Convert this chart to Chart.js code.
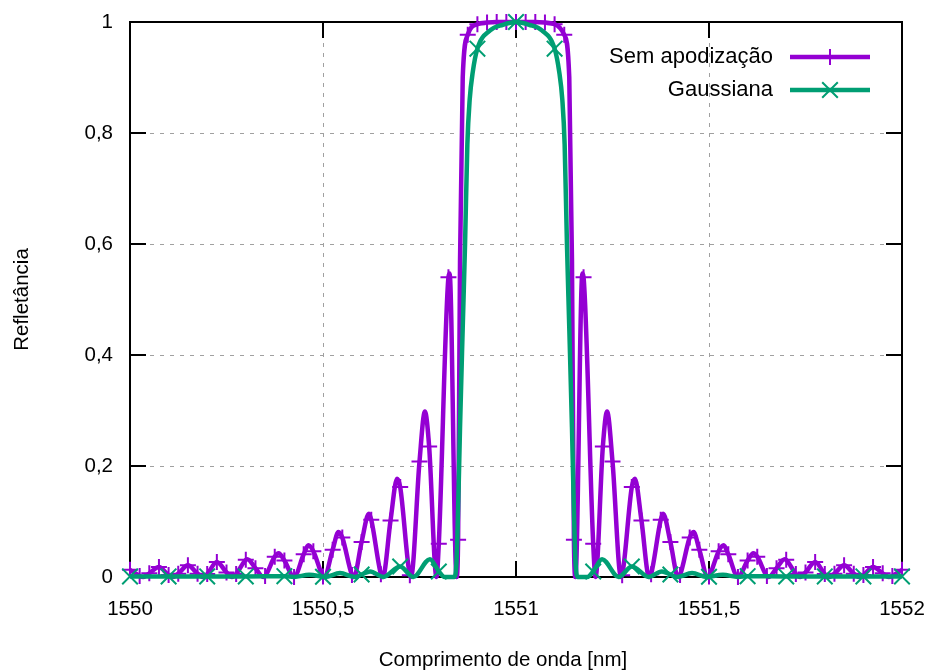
<!DOCTYPE html>
<html><head><meta charset="utf-8">
<script src="https://cdn.jsdelivr.net/npm/chart.js@4"></script>
<style>html,body{margin:0;padding:0;background:#fff;}#wrap{width:928px;height:672px;}</style>
</head><body><div id="wrap"><canvas id="c" width="928" height="672"></canvas></div>
<script>
// ---- data ----
const seriesNames = ["Sem apodização", "Gaussiana"];
const xTitle = "Comprimento de onda [nm]";
const yTitle = "Refletância";
const xTickValues = [1550, 1550.5, 1551, 1551.5, 1552];
const xTickLabels = ["1550", "1550,5", "1551", "1551,5", "1552"];
const yTickValues = [0, 0.2, 0.4, 0.6, 0.8, 1];
const yTickLabels = ["0", "0,2", "0,4", "0,6", "0,8", "1"];

// Sem apodização (uniform grating)
const semX = [1550.000,1550.025,1550.034,1550.050,1550.075,1550.100,1550.111,1550.125,1550.150,1550.175,1550.189,1550.200,1550.225,1550.250,1550.264,1550.275,1550.300,1550.304,1550.325,1550.345,1550.350,1550.375,1550.385,1550.400,1550.425,1550.450,1550.462,1550.475,1550.500,1550.503,1550.525,1550.540,1550.550,1550.575,1550.580,1550.600,1550.619,1550.625,1550.650,1550.655,1550.675,1550.692,1550.700,1550.725,1550.728,1550.750,1550.764,1550.775,1550.794,1550.800,1550.825,1550.828,1550.846,1550.850,1550.855,1550.862,1550.875,1550.900,1550.925,1550.950,1550.975,1551.000,
  1551.025,1551.050,1551.075,1551.100,1551.125,1551.138,1551.145,1551.150,1551.154,1551.172,1551.175,1551.200,1551.206,1551.225,1551.236,1551.250,1551.272,1551.275,1551.300,1551.308,1551.325,1551.345,1551.350,1551.375,1551.381,1551.400,1551.420,1551.425,1551.450,1551.460,1551.475,1551.497,1551.500,1551.525,1551.538,1551.550,1551.575,1551.600,1551.615,1551.625,1551.650,1551.655,1551.675,1551.696,1551.700,1551.725,1551.736,1551.750,1551.775,1551.800,1551.811,1551.825,1551.850,1551.875,1551.889,1551.900,1551.925,1551.950,1551.966,1551.975,1552.000];
const semY = [0.013,0.002,0,0.0066,0.018,0.0035,0,0.006,0.021,0.006,0,0.0053,0.027,0.0083,0,0.0055,0.031,0.032,0.0157,0,0.0016,0.0367,0.043,0.0297,0,0.041,0.057,0.0465,0.001,0,0.049,0.081,0.071,0.0035,0,0.063,0.114,0.103,0.005,0,0.102,0.177,0.162,0.003,0,0.208,0.298,0.235,0,0.06,0.54,0.547,0,0.067,0.57,0.90,0.977,0.996,0.999,1,1,1,
  1,1,0.999,0.996,0.977,0.90,0.57,0.067,0,0.547,0.54,0.06,0,0.235,0.298,0.208,0,0.003,0.162,0.177,0.102,0,0.005,0.103,0.114,0.063,0,0.0035,0.071,0.081,0.049,0,0.001,0.0465,0.057,0.041,0,0.0297,0.043,0.0367,0.0016,0,0.0157,0.032,0.031,0.0055,0,0.0083,0.027,0.0053,0,0.006,0.021,0.006,0,0.0035,0.018,0.0066,0,0.002,0.013];

// Gaussiana (gaussian apodization)
const gauX = [1550.000,1550.100,1550.200,1550.300,1550.400,1550.425,1550.464,1550.500,1550.505,1550.544,1550.583,1550.600,1550.622,1550.656,1550.700,1550.734,1550.777,1550.800,1550.815,1550.840,1550.846,1550.851,1550.855,1550.862,1550.868,1550.874,1550.880,1550.888,1550.900,1550.933,1550.966,1551.000,
  1551.034,1551.067,1551.100,1551.112,1551.120,1551.126,1551.132,1551.138,1551.145,1551.149,1551.154,1551.160,1551.185,1551.200,1551.223,1551.266,1551.300,1551.344,1551.378,1551.400,1551.417,1551.456,1551.495,1551.500,1551.536,1551.575,1551.600,1551.700,1551.800,1551.900,1552.000];
const gauY = [0.001,0.001,0.001,0.001,0.0015,0,0.004,0.0005,0,0.007,0,0.0045,0.010,0,0.019,0,0.032,0.010,0,0,0.03,0.15,0.27,0.45,0.60,0.78,0.86,0.91,0.952,0.985,0.995,1.0,
  0.995,0.985,0.952,0.91,0.86,0.78,0.60,0.45,0.27,0.15,0.03,0,0,0.010,0.032,0,0.019,0,0.010,0.0045,0,0.007,0,0.0005,0.004,0,0.0015,0.001,0.001,0.001,0.001];

const semMarkerStep = 0.025;
const gauMarkerStep = 0.1;

// ---- styles ----
const FONT = "'Liberation Sans', Arial, Helvetica, sans-serif";
const FS = 20.5;
const LEG_FS = 22;
const PURPLE = '#9400d3';
const GREEN = '#009e73';

function pts(xs, ys){ return xs.map((x,i)=>({x:x, y:ys[i]})); }
function onStep(x, step){ const d=(x-1550)/step; return Math.abs(d-Math.round(d))<1e-4; }

Chart.defaults.font.family = FONT;
Chart.defaults.font.size = FS;
Chart.defaults.color = '#000';

const frame = {
  id: 'frame',
  beforeDatasetsDraw(chart){
    const {ctx, chartArea:a, scales:{x, y}} = chart;
    ctx.save();
    ctx.strokeStyle = '#a0a0a0'; ctx.lineWidth = 1; ctx.setLineDash([4,6]);
    xTickValues.forEach(v=>{ if(v>x.min && v<x.max){ const p=Math.round(x.getPixelForValue(v))+0.5; ctx.beginPath(); ctx.moveTo(p,a.bottom); ctx.lineTo(p,a.top); ctx.stroke(); }});
    yTickValues.forEach(v=>{ if(v>y.min && v<y.max){ const p=Math.round(y.getPixelForValue(v))+0.5; ctx.beginPath(); ctx.moveTo(a.left,p); ctx.lineTo(a.right,p); ctx.stroke(); }});
    ctx.setLineDash([]);
    ctx.strokeStyle = '#000'; ctx.lineWidth = 2;
    const T = 16;
    xTickValues.forEach(v=>{ const p=x.getPixelForValue(v); ctx.beginPath(); ctx.moveTo(p,a.bottom); ctx.lineTo(p,a.bottom-T); ctx.moveTo(p,a.top); ctx.lineTo(p,a.top+T); ctx.stroke(); });
    yTickValues.forEach(v=>{ const p=y.getPixelForValue(v); ctx.beginPath(); ctx.moveTo(a.left,p); ctx.lineTo(a.left+T,p); ctx.moveTo(a.right,p); ctx.lineTo(a.right-T,p); ctx.stroke(); });
    ctx.strokeRect(a.left, a.top, a.right-a.left, a.bottom-a.top);
    ctx.restore();
  },
  afterDraw(chart){
    const {ctx, chartArea:a} = chart;
    ctx.save();
    // x axis title
    ctx.font = FS + 'px ' + FONT; ctx.fillStyle = '#000'; ctx.textAlign = 'center'; ctx.textBaseline = 'middle';
    ctx.fillText(xTitle, (a.left + a.right) / 2 - 13, 660);
    // legend
    const rows = [
      {label: seriesNames[0], color: PURPLE, mk: 'plus', y: a.top + 35},
      {label: seriesNames[1], color: GREEN, mk: 'x', y: a.top + 68}
    ];
    rows.forEach(r=>{
      ctx.font = LEG_FS + 'px ' + FONT; ctx.fillStyle = '#000'; ctx.textAlign = 'right'; ctx.textBaseline = 'middle';
      ctx.fillText(r.label, a.right - 129, r.y);
      ctx.strokeStyle = r.color; ctx.lineWidth = 4.5;
      ctx.beginPath(); ctx.moveTo(a.right-112, r.y); ctx.lineTo(a.right-32, r.y); ctx.stroke();
      const cx = a.right - 72; ctx.lineWidth = 2; ctx.beginPath();
      if (r.mk === 'plus'){ ctx.moveTo(cx-8,r.y); ctx.lineTo(cx+8,r.y); ctx.moveTo(cx,r.y-8); ctx.lineTo(cx,r.y+8); }
      else { const d=7.8; ctx.moveTo(cx-d,r.y-d); ctx.lineTo(cx+d,r.y+d); ctx.moveTo(cx-d,r.y+d); ctx.lineTo(cx+d,r.y-d); }
      ctx.stroke();
    });
    ctx.restore();
  }
};

new Chart(document.getElementById('c'), {
  type: 'scatter',
  data: { datasets: [
    { label: seriesNames[0], data: pts(semX, semY), showLine: true, borderColor: PURPLE, borderWidth: 4.5,
      cubicInterpolationMode: 'monotone', pointStyle: 'cross',
      pointRadius: c => (c.raw && onStep(c.raw.x, semMarkerStep)) ? 8 : 0,
      pointBorderWidth: 2, pointBorderColor: PURPLE, pointBackgroundColor: PURPLE, order: 2, clip: false },
    { label: seriesNames[1], data: pts(gauX, gauY), showLine: true, borderColor: GREEN, borderWidth: 4.5,
      cubicInterpolationMode: 'monotone', pointStyle: 'crossRot',
      pointRadius: c => (c.raw && onStep(c.raw.x, gauMarkerStep)) ? 11 : 0,
      pointBorderWidth: 2, pointBorderColor: GREEN, pointBackgroundColor: GREEN, order: 1, clip: false }
  ]},
  options: {
    responsive: false, animation: false, events: [],
    layout: { padding: { top: 22, right: 26, left: 0, bottom: 0 } },
    plugins: { legend: { display: false }, tooltip: { enabled: false } },
    scales: {
      x: { type: 'linear', min: 1550, max: 1552,
        grid: { display: false, drawTicks: false }, border: { display: false },
        afterBuildTicks: s => { s.ticks = xTickValues.map(v=>({value:v})); },
        ticks: { padding: 20, maxRotation: 0, autoSkip: false,
          callback: v => { const i = xTickValues.findIndex(t=>Math.abs(t-v)<1e-6); return i>=0 ? xTickLabels[i] : ''; } },
        title: { display: false },
        afterFit: s => { s.height = 95; s.paddingLeft = 0; s.paddingRight = 0; } },
      y: { min: 0, max: 1,
        grid: { display: false, drawTicks: false }, border: { display: false },
        afterBuildTicks: s => { s.ticks = yTickValues.map(v=>({value:v})); },
        ticks: { padding: 17,
          callback: v => { const i = yTickValues.findIndex(t=>Math.abs(t-v)<1e-6); return i>=0 ? yTickLabels[i] : ''; } },
        title: { display: true, text: yTitle, padding: { top: 10, bottom: 0 } },
        afterFit: s => { s.width = 130; s.paddingTop = 0; s.paddingBottom = 0; } }
    }
  },
  plugins: [frame]
});
</script></body></html>
